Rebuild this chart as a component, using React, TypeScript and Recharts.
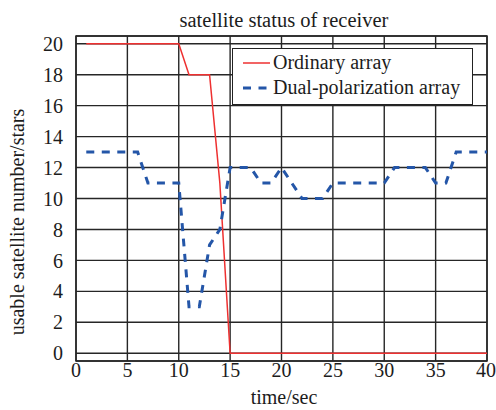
import { LineChart, Line, XAxis, YAxis, CartesianGrid, Legend, ReferenceArea } from 'recharts';

// seconds 1..40
const seconds = [
  1, 2, 3, 4, 5, 6, 7, 8, 9, 10, 11, 12, 13, 14, 15, 16, 17, 18, 19, 20,
  21, 22, 23, 24, 25, 26, 27, 28, 29, 30, 31, 32, 33, 34, 35, 36, 37, 38, 39, 40,
];
const ordinary = [
  20, 20, 20, 20, 20, 20, 20, 20, 20, 20, 18, 18, 18, 11, 0, 0, 0, 0, 0, 0,
  0, 0, 0, 0, 0, 0, 0, 0, 0, 0, 0, 0, 0, 0, 0, 0, 0, 0, 0, 0,
];
const dualPol = [
  13, 13, 13, 13, 13, 13, 11, 11, 11, 11, 3, 3, 7, 8, 12, 12, 12, 11, 11, 12,
  11, 10, 10, 10, 11, 11, 11, 11, 11, 11, 12, 12, 12, 12, 11, 11, 13, 13, 13, 13,
];
const xTicks = [0, 5, 10, 15, 20, 25, 30, 35, 40];
const yTicks = [0, 2, 4, 6, 8, 10, 12, 14, 16, 18, 20];

const data = seconds.map((t, i) => ({ t, ordinary: ordinary[i], dual: dualPol[i] }));

const FONT = 'Liberation Serif, Times New Roman, serif';
const RED = '#ee3030';
const BLUE = '#2456a8';
const INK = '#1c1c1c';

const legendItems = [
  { name: 'Ordinary array', color: RED, width: 1.5, dash: undefined },
  { name: 'Dual-polarization array', color: BLUE, width: 3, dash: '8 7.5' },
];

function LegendBox() {
  return (
    <div
      style={{
        border: '1.5px solid #222',
        background: '#fff',
        width: 239,
        height: 54,
        boxSizing: 'content-box',
        fontFamily: FONT,
        fontSize: 20,
        color: INK,
        paddingTop: 1,
      }}
    >
      {legendItems.map((item) => (
        <div key={item.name} style={{ display: 'flex', alignItems: 'center', height: 25, lineHeight: '25px' }}>
          <svg width={32} height={10} style={{ marginLeft: 8 }}>
            <line x1={2} y1={5} x2={29} y2={5} stroke={item.color} strokeWidth={item.width} strokeDasharray={item.dash} />
          </svg>
          <span>{item.name}</span>
        </div>
      ))}
    </div>
  );
}

export default function App() {
  return (
    <div
      style={{
        position: 'absolute',
        left: 0,
        top: 0,
        width: 496,
        height: 410,
        background: '#fff',
        fontFamily: FONT,
      }}
    >
      <div
        style={{
          position: 'absolute',
          left: 84,
          width: 400,
          top: 10,
          lineHeight: '20px',
          textAlign: 'center',
          fontSize: 20.5,
          color: INK,
        }}
      >
        satellite status of receiver
      </div>
      <LineChart
        width={496}
        height={410}
        data={data}
        margin={{ top: 36, right: 9, left: 0, bottom: 0 }}
        style={{ fontFamily: FONT }}
      >
        <CartesianGrid stroke="#262626" strokeWidth={1.4} />
        <XAxis
          dataKey="t"
          type="number"
          domain={[0, 40]}
          ticks={xTicks}
          height={49}
          axisLine={false}
          tickLine={false}
          tickSize={0}
          tickMargin={2}
          tick={{ fontSize: 20, fill: INK, fontFamily: FONT }}
          label={{
            content: () => (
              <text x={284} y={404} textAnchor="middle" fontSize={20} fill={INK} fontFamily={FONT}>
                time/sec
              </text>
            ),
          }}
        />
        <YAxis
          type="number"
          domain={[-0.5, 20.5]}
          ticks={yTicks}
          width={76}
          axisLine={false}
          tickLine={false}
          tickSize={0}
          tickMargin={13}
          tick={{ fontSize: 20, fill: INK, fontFamily: FONT }}
          label={{
            content: () => (
              <text
                x={23.5}
                y={222}
                transform="rotate(-90, 23.5, 222)"
                textAnchor="middle"
                fontSize={20}
                fill={INK}
                fontFamily={FONT}
              >
                usable satellite number/stars
              </text>
            ),
          }}
        />
        <ReferenceArea x1={0} x2={40} y1={-0.5} y2={20.5} fill="none" stroke="#262626" strokeWidth={1.5} fillOpacity={0} />
        <Line
          type="linear"
          dataKey="ordinary"
          stroke={RED}
          strokeWidth={1.5}
          dot={false}
          isAnimationActive={false}
          name="Ordinary array"
        />
        <Line
          type="linear"
          dataKey="dual"
          stroke={BLUE}
          strokeWidth={3}
          strokeDasharray="8 7.5"
          dot={false}
          isAnimationActive={false}
          name="Dual-polarization array"
        />
        <Legend
          layout="vertical"
          align="center"
          verticalAlign="middle"
          content={() => <LegendBox />}
          wrapperStyle={{ left: 232, top: 48, width: 'auto' }}
        />
      </LineChart>
    </div>
  );
}
